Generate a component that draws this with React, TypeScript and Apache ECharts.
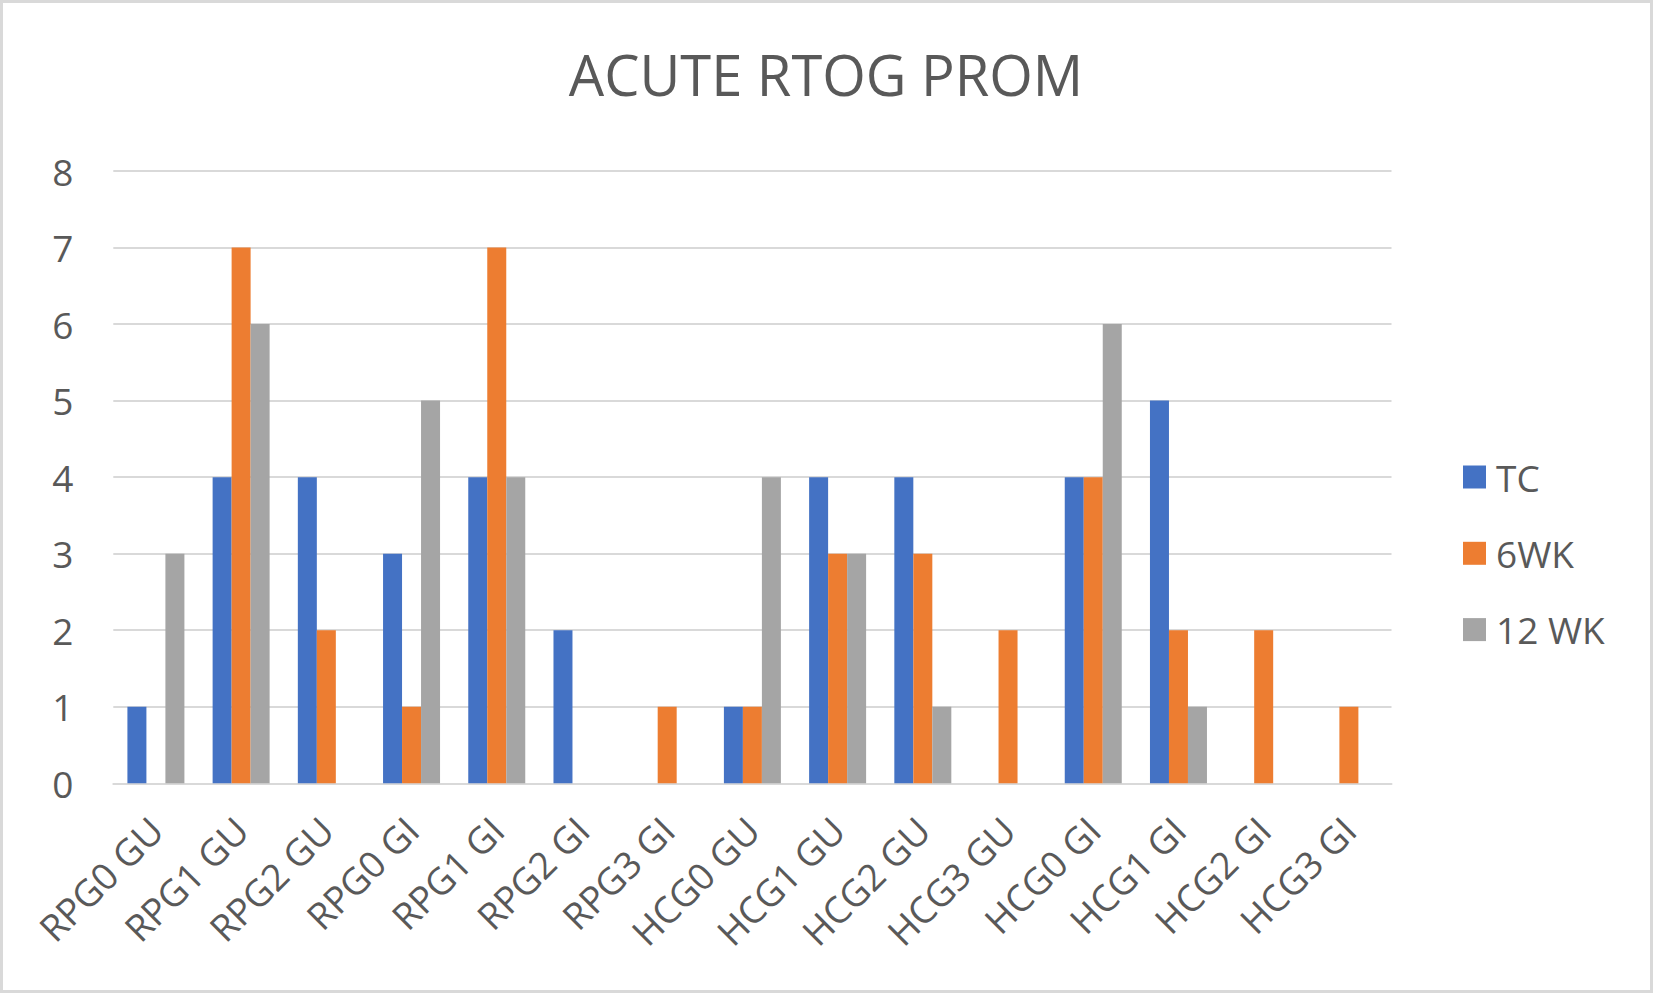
import React, { useEffect, useRef } from "react";
import * as echarts from "echarts";

const categories = [
  "RPG0 GU", "RPG1 GU", "RPG2 GU", "RPG0 GI", "RPG1 GI", "RPG2 GI", "RPG3 GI",
  "HCG0 GU", "HCG1 GU", "HCG2 GU", "HCG3 GU", "HCG0 GI", "HCG1 GI", "HCG2 GI", "HCG3 GI",
];
const tcValues = [1, 4, 4, 3, 4, 2, 0, 1, 4, 4, 0, 4, 5, 0, 0];
const wk6Values = [0, 7, 2, 1, 7, 0, 1, 1, 3, 3, 2, 4, 2, 2, 1];
const wk12Values = [3, 6, 0, 5, 4, 0, 0, 4, 3, 1, 0, 6, 1, 0, 0];
const seriesNames = ["TC", "6WK", "12 WK"];
const titleText = "ACUTE RTOG PROM";

const FONT = "'Open Sans', 'Noto Sans', sans-serif";
const TEXT = "#595959";
const GRID = "#D9D9D9";

export default function App() {
  const ref = useRef<HTMLDivElement>(null);
  useEffect(() => {
    document.body.style.margin = "0";
    const chart = echarts.init(ref.current!, null, { renderer: "svg" });
    const bar = (name: string, data: number[], color: string) => ({
      name,
      type: "bar",
      data,
      barWidth: 19,
      barGap: "0%",
      itemStyle: { color },
    });
    chart.setOption({
      animation: false,
      backgroundColor: "#FFFFFF",
      textStyle: { fontFamily: FONT },
      graphic: [
        {
          type: "rect",
          shape: { x: 1.5, y: 1.5, width: 1650, height: 990 },
          style: { fill: "none", stroke: GRID, lineWidth: 3 },
          silent: true,
        },
        {
          type: "text",
          x: 826,
          y: 74,
          style: {
            text: titleText,
            fontFamily: FONT,
            fontSize: 56,
            fill: TEXT,
            textAlign: "center",
            textVerticalAlign: "middle",
          },
        },
      ],
      legend: {
        orient: "vertical",
        left: 1463,
        top: 458.5,
        padding: 0,
        itemWidth: 23,
        itemHeight: 23,
        itemGap: 39.3,
        icon: "rect",
        data: seriesNames,
        textStyle: {
          color: TEXT,
          fontSize: 37,
          fontFamily: FONT,
          padding: [0, 0, 0, 5],
        },
      },
      grid: { left: 113.3, right: 261.5, top: 171, bottom: 209.7, containLabel: false },
      xAxis: {
        type: "category",
        data: categories,
        axisLine: { lineStyle: { color: GRID, width: 2 } },
        axisTick: { show: false },
        axisLabel: {
          interval: 0,
          rotate: 45,
          margin: 40,
          color: TEXT,
          fontSize: 37,
          fontFamily: FONT,
        },
      },
      yAxis: {
        type: "value",
        min: 0,
        max: 8,
        interval: 1,
        axisLine: { show: false },
        axisTick: { show: false },
        axisLabel: { margin: 40, color: TEXT, fontSize: 37, fontFamily: FONT },
        splitLine: { lineStyle: { color: GRID, width: 2 } },
      },
      series: [
        bar(seriesNames[0], tcValues, "#4472C4"),
        bar(seriesNames[1], wk6Values, "#ED7D31"),
        bar(seriesNames[2], wk12Values, "#A5A5A5"),
      ],
    });
    return () => chart.dispose();
  }, []);
  return <div ref={ref} style={{ width: 1653, height: 993 }} />;
}
